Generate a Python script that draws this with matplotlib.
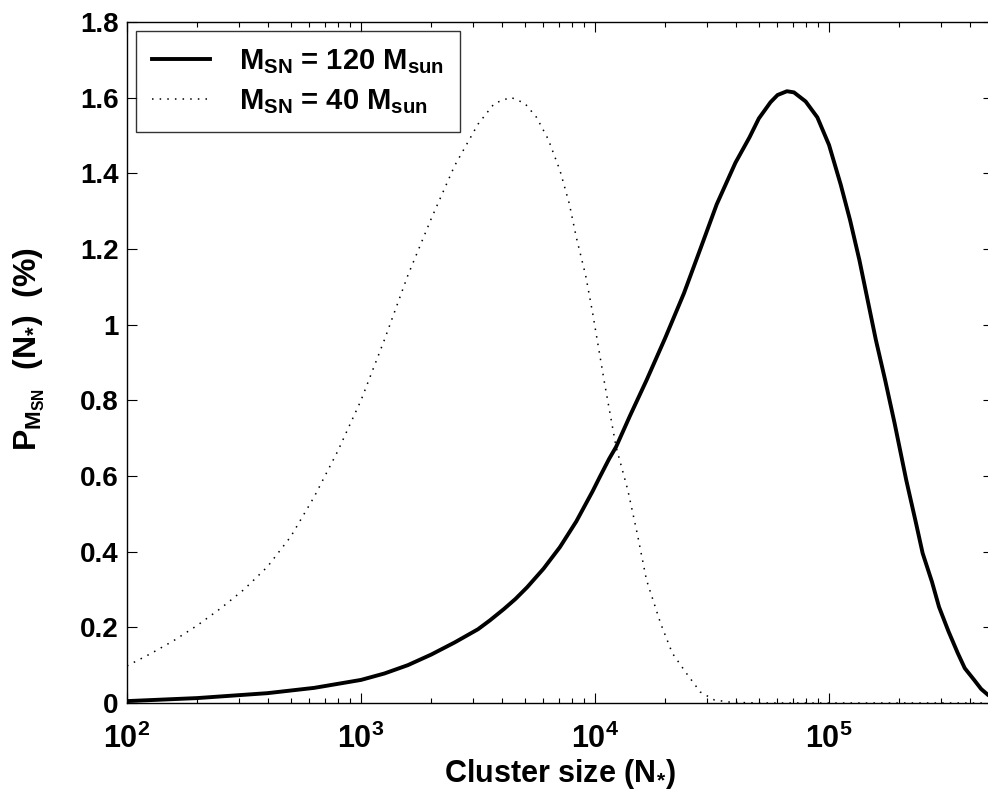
# P_MSN(N*) versus cluster size, two supernova progenitor masses
import matplotlib
matplotlib.use("Agg")
import matplotlib.pyplot as plt
import numpy as np

# === Data (log10 of cluster size, percent) ===
logn_120 = [2.00, 2.30, 2.60, 2.80, 3.00, 3.10, 3.20, 3.30, 3.40, 3.50,
            3.55, 3.61, 3.66, 3.71, 3.78, 3.85, 3.92, 3.99, 4.02, 4.06,
            4.09, 4.15, 4.22, 4.30, 4.38, 4.45, 4.52, 4.60, 4.66, 4.70,
            4.75, 4.78, 4.82, 4.85, 4.90, 4.95, 5.00, 5.05, 5.09, 5.13,
            5.17, 5.20, 5.24, 5.28, 5.33, 5.37, 5.40, 5.44, 5.47, 5.51,
            5.55, 5.58, 5.62, 5.65, 5.68, 5.70]
p_120 = [0.005, 0.013, 0.026, 0.040, 0.061, 0.078, 0.100, 0.128, 0.160, 0.195,
         0.218, 0.248, 0.275, 0.306, 0.355, 0.412, 0.480, 0.560, 0.597, 0.645,
         0.677, 0.760, 0.853, 0.965, 1.083, 1.200, 1.318, 1.428, 1.495, 1.545,
         1.588, 1.607, 1.617, 1.614, 1.590, 1.548, 1.475, 1.370, 1.276, 1.170,
         1.050, 0.960, 0.853, 0.740, 0.589, 0.480, 0.396, 0.320, 0.254, 0.190,
         0.132, 0.092, 0.061, 0.037, 0.021, 0.015]

logn_40 = [2.00, 2.10, 2.20, 2.30, 2.40, 2.50, 2.60, 2.70, 2.80, 2.90,
           3.00, 3.10, 3.20, 3.30, 3.40, 3.50, 3.57, 3.64, 3.70, 3.75,
           3.80, 3.85, 3.89, 3.92, 3.96, 3.99, 4.04, 4.09, 4.14, 4.18,
           4.22, 4.28, 4.33, 4.39, 4.45, 4.51, 4.58, 4.70, 5.00, 5.70]
p_40 = [0.098, 0.130, 0.165, 0.205, 0.250, 0.300, 0.360, 0.440, 0.545, 0.665,
        0.800, 0.960, 1.130, 1.280, 1.420, 1.530, 1.585, 1.601, 1.585, 1.548,
        1.490, 1.408, 1.320, 1.231, 1.130, 1.030, 0.848, 0.677, 0.563, 0.449,
        0.325, 0.211, 0.132, 0.079, 0.029, 0.008, 0.002, 0.0, 0.0, 0.0]

labels = [r'$M_{SN}$ = 120 $M_{sun}$', r'$M_{SN}$ = 40 $M_{sun}$']
yticks = [0, 0.2, 0.4, 0.6, 0.8, 1, 1.2, 1.4, 1.6, 1.8]
ytick_labels = ['0', '0.2', '0.4', '0.6', '0.8', '1', '1.2', '1.4', '1.6', '1.8']
xticks = [1e2, 1e3, 1e4, 1e5]
xtick_labels = [r'$10^{2}$', r'$10^{3}$', r'$10^{4}$', r'$10^{5}$']

# === Style Configuration ===
plt.rcParams.update({
    'font.family': 'Liberation Sans',
    'font.weight': 'bold',
    'axes.labelweight': 'bold',
    'font.size': 20,
    'mathtext.fontset': 'custom',
    'mathtext.rm': 'Liberation Sans:bold',
    'mathtext.it': 'Liberation Sans:bold',
    'mathtext.bf': 'Liberation Sans:bold',
    'mathtext.default': 'regular',
    'axes.linewidth': 1.0,
    'xtick.direction': 'in',
    'ytick.direction': 'in',
    'xtick.top': True,
    'ytick.right': True,
    'xtick.major.size': 7,
    'ytick.major.size': 7,
    'xtick.minor.size': 3.5,
    'xtick.major.width': 0.8,
    'ytick.major.width': 0.8,
    'xtick.minor.width': 0.8,
})

fig = plt.figure(figsize=(9.88, 7.92), dpi=100)
ax = fig.add_axes([127 / 988, 89 / 792, 865.6 / 988, 681 / 792])

ax.plot(10 ** np.array(logn_120), p_120, color='black', lw=2.8,
        solid_joinstyle='round', label=labels[0])
ax.plot(10 ** np.array(logn_40), p_40, color='black', lw=1.1,
        linestyle=(0, (1, 4)), label=labels[1])

ax.set_xscale('log')
ax.set_xlim(1e2, 5e5)
ax.set_ylim(0, 1.8)
ax.set_xticks(xticks)
ax.set_xticklabels(xtick_labels, fontsize=22, fontweight='bold')
ax.set_yticks(yticks)
ax.set_yticklabels(ytick_labels, fontsize=20, fontweight='bold')
ax.tick_params(axis='x', which='major', pad=15)
ax.tick_params(axis='y', which='major', pad=6)

ax.set_xlabel(r'Cluster size (N$_{*}$)', fontsize=22, fontweight='bold', labelpad=1)
ax.set_ylabel(r'$P_{M_{SN}}$  (N$_{*}$)  (%)', fontsize=23, fontweight='bold')
ax.yaxis.set_label_coords(-0.092, 0.52)

leg = ax.legend(loc='upper left', fontsize=21, frameon=True, fancybox=False,
                borderaxespad=0.3, handlelength=2.0, handletextpad=1.0,
                labelspacing=0.4, borderpad=0.55)
leg.get_frame().set_edgecolor('black')
leg.get_frame().set_linewidth(1.0)

fig.savefig('out.png', dpi=100)
